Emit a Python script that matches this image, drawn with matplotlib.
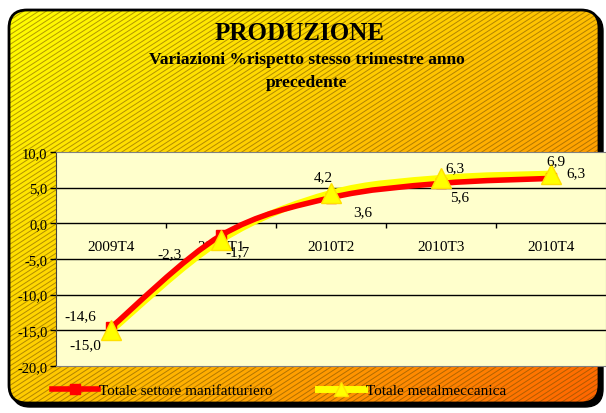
import numpy as np
import matplotlib
matplotlib.use('Agg')
import matplotlib.pyplot as plt
from matplotlib.patches import FancyBboxPatch, PathPatch
from matplotlib.path import Path
from matplotlib.lines import Line2D
from matplotlib.collections import LineCollection

categories = ['2009T4', '2010T1', '2010T2', '2010T3', '2010T4']
manifatturiero = [-14.6, -1.7, 3.6, 5.6, 6.3]
metalmeccanica = [-15.0, -2.3, 4.2, 6.3, 6.9]
yticks = [10, 5, 0, -5, -10, -15, -20]

# label offsets in pixels (dx, dy)
off_red = [(-31, 12), (16, -16), (32, -14), (19, -13), (25, 6)]
off_yel = [(-26, -14), (-52, -14), (-8, 17), (14, 11), (5, 13)]

SERIF = 'Liberation Serif'
W, H = 606, 414


def smooth_path(xs, ys):
    # Catmull-Rom style bezier through the points (like Excel smoothed lines)
    pts = np.column_stack([xs, ys]).astype(float)
    verts = [pts[0]]
    codes = [Path.MOVETO]
    n = len(pts)
    for i in range(n - 1):
        p0 = pts[i - 1] if i > 0 else pts[i]
        p1 = pts[i]
        p2 = pts[i + 1]
        p3 = pts[i + 2] if i + 2 < n else pts[i + 1]
        c1 = p1 + (p2 - p0) / 6.0
        c2 = p2 - (p3 - p1) / 6.0
        verts += [c1, c2, p2]
        codes += [Path.CURVE4] * 3
    return Path(verts, codes)


def main():
    fig = plt.figure(figsize=(W / 100, H / 100), dpi=100)
    fig.patch.set_facecolor('white')

    # background with gradient + hatch
    bg = fig.add_axes([0, 0, 1, 1])
    bg.axis('off')
    bg.set_xlim(0, W)
    bg.set_ylim(H, 0)
    bg.set_autoscale_on(False)

    shadow = FancyBboxPatch((12, 14), 591, 394, boxstyle='round,pad=0,rounding_size=18',
                            fc='black', ec='black', lw=1)
    bg.add_patch(shadow)
    box = FancyBboxPatch((9, 11), 590, 393, boxstyle='round,pad=0,rounding_size=18',
                         fc='none', ec='black', lw=2, zorder=5)
    bg.add_patch(box)

    gx = np.linspace(0, 1, 200)
    gy = np.linspace(0, 1, 140)
    X, Y = np.meshgrid(gx, gy)
    g = 255 * (1 - X) * (1 - Y) + 192 * X * (1 - Y) + 205 * (1 - X) * Y + 100 * X * Y
    img = np.zeros((140, 200, 3))
    img[..., 0] = 1.0
    img[..., 1] = g / 255
    im = bg.imshow(img, extent=(9, 599, 404, 11), aspect='auto', zorder=1)
    clip = FancyBboxPatch((9, 11), 590, 393, boxstyle='round,pad=0,rounding_size=18',
                          fc='none', ec='none', transform=bg.transData)
    bg.add_patch(clip)
    im.set_clip_path(clip)

    slope = np.tan(np.radians(33))
    segs = [[(c, H), (c + 700, H - 700 * slope)] for c in np.arange(-700, 620, 7.5)]
    hatch = LineCollection(segs, colors=[(0.45, 0.3, 0.0, 0.55)], linewidths=0.7, zorder=2)
    bg.add_collection(hatch)
    hatch.set_clip_path(clip)

    fig.text(300 / W, 1 - 33 / H, 'PRODUZIONE', ha='center', va='center',
             fontsize=18, fontweight='bold', family=SERIF)
    fig.text(307 / W, 1 - 60 / H, 'Variazioni %rispetto stesso trimestre anno', ha='center',
             va='center', fontsize=12.5, fontweight='bold', family=SERIF)
    fig.text(307 / W, 1 - 83 / H, 'precedente', ha='center', va='center',
             fontsize=12.5, fontweight='bold', family=SERIF)

    # plot area
    ax = fig.add_axes([56 / W, 1 - 367 / H, 550 / W, 214 / H])
    ax.set_facecolor('#FFFFCC')
    x = np.arange(1, len(categories) + 1)
    ax.set_xlim(0.5, len(categories) + 0.5)
    ax.set_ylim(-20, 10)
    ax.set_yticks(yticks)
    ax.set_yticklabels([('%.1f' % v).replace('.', ',') for v in yticks],
                       family=SERIF, fontsize=10.5)
    ax.tick_params(axis='y', length=4, width=1, pad=2)
    ax.set_xticks([])
    for v in [5, 0, -5, -10, -15]:
        ax.axhline(v, color='black', lw=1, zorder=1)
    for s in ['top', 'right', 'bottom']:
        ax.spines[s].set_color('#808080')
    ax.spines['left'].set_color('#404040')
    ax.vlines(x[:-1] + 0.5, -0.7, 0, color='black', lw=1, zorder=1)
    for xi, c in zip(x, categories):
        ax.text(xi, -3.3, c, ha='center', va='center', family=SERIF, fontsize=11)

    ax.add_patch(PathPatch(smooth_path(x, metalmeccanica), fc='none', ec='#FFFF00',
                           lw=5, zorder=3, capstyle='round'))
    ax.add_patch(PathPatch(smooth_path(x, manifatturiero), fc='none', ec='#FF0000',
                           lw=4, zorder=4, capstyle='round'))
    ax.plot(x, manifatturiero, ls='none', marker='s', ms=7, color='#FF0000', zorder=5)
    ax.plot(x, metalmeccanica, ls='none', marker='^', ms=15, color='#FFFF00',
            mec='#FFE000', zorder=6)

    for xi, v, o in zip(x, manifatturiero, off_red):
        ax.annotate(('%.1f' % v).replace('.', ','), (xi, v), xytext=o,
                    textcoords='offset pixels', ha='center', va='center',
                    family=SERIF, fontsize=11, zorder=7)
    for xi, v, o in zip(x, metalmeccanica, off_yel):
        ax.annotate(('%.1f' % v).replace('.', ','), (xi, v), xytext=o,
                    textcoords='offset pixels', ha='center', va='center',
                    family=SERIF, fontsize=11, zorder=7)

    handles = [Line2D([], [], color='#FF0000', lw=4, marker='s', ms=7),
               Line2D([], [], color='#FFFF00', lw=5, marker='^', ms=10, mec='#FFE000')]
    fig.legend(handles, ['Totale settore manifatturiero', 'Totale metalmeccanica'],
               loc='center left', bbox_to_anchor=(38 / W, 1 - 391 / H), ncol=2,
               frameon=False, handlelength=3.0, handletextpad=0.1, columnspacing=3.0,
               prop={'family': SERIF, 'size': 11})

    fig.savefig('out.png', dpi=100)


if __name__ == '__main__':
    main()
